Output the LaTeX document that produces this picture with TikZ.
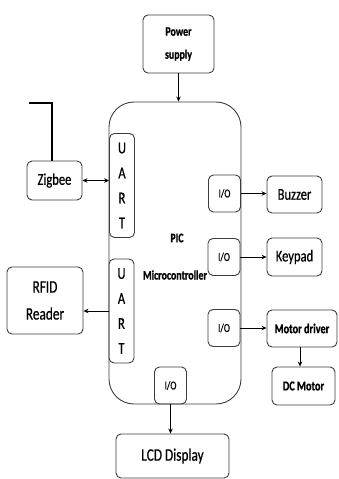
\documentclass[tikz,border=0pt]{standalone}
\usepackage{fontspec}
\setmainfont{Carlito}[FakeStretch=0.76]
\newfontfamily\heavyfont{Carlito}[FakeStretch=0.76,FakeBold=0.6]
\newfontfamily\heavybold{Carlito Bold}[FakeStretch=0.76,FakeBold=0.8]
\usetikzlibrary{arrows.meta}
\definecolor{boxline}{RGB}{60,60,60}
\tikzset{block/.style={draw=boxline,rounded corners=5pt,line width=0.9pt,align=center,inner sep=0pt},
 port/.style={block,minimum width=32pt,minimum height=37pt,font=\heavyfont\fontsize{12}{14}\selectfont},
 uart/.style={block,minimum width=25pt,minimum height=104pt,font=\heavyfont\fontsize{16.5}{25}\selectfont},
 link/.style={-{Stealth[length=5pt,width=4.5pt]},line width=0.8pt},
 bigtext/.style={font=\heavyfont\fontsize{16.5}{19}\selectfont},
 boldtext/.style={font=\heavybold\fontsize{13}{23}\selectfont}}

\begin{document}
\begin{tikzpicture}[x=1pt,y=-1pt]
\useasboundingbox (0,0) rectangle (338,479);
\node[block,rounded corners=25pt,minimum width=132pt,minimum height=302pt] (pic) at (175,253) {};
\node[block,boldtext,minimum width=71pt,minimum height=58pt] (power) at (178.5,44) {Power\\supply};
\node[uart] (uartA) at (122,185.5) {U\\A\\R\\T};
\node[uart] (uartB) at (121.5,311) {U\\A\\R\\T};
\node[port] (ioBuzzer) at (224.5,193.5) {I/O};
\node[port] (ioKeypad) at (224,257) {I/O};
\node[port] (ioMotor) at (224,328) {I/O};
\node[port] (ioLcd) at (170.5,385.5) {I/O};
\node[boldtext] (picLabel) at (177,238) {PIC};
\node[boldtext] (mcLabel) at (175,275) {Microcontroller};
\node[block,bigtext,minimum width=55pt,minimum height=39pt] (zigbee) at (54.5,180.5) {Zigbee};
\node[block,font=\heavyfont\fontsize{17.5}{27}\selectfont,minimum width=76pt,minimum height=67pt] (rfid) at (45,300.5) {RFID\\Reader};
\node[block,bigtext,minimum width=55pt,minimum height=37pt] (buzzer) at (294.5,194.5) {Buzzer};
\node[block,bigtext,minimum width=55pt,minimum height=38pt] (keypad) at (294.5,257) {Keypad};
\node[block,font=\heavybold\fontsize{13.5}{15}\selectfont,minimum width=70pt,minimum height=37pt] (motorDrv) at (302,328.5) {Motor driver};
\node[block,font=\heavybold\fontsize{13.5}{15}\selectfont,minimum width=63pt,minimum height=38pt] (dcMotor) at (303.5,386) {DC Motor};
\node[block,font=\heavyfont\fontsize{17.5}{19}\selectfont,minimum width=113pt,minimum height=44pt] (lcd) at (172.5,456) {LCD Display};
\coordinate (antTop) at (52,103);
\coordinate (antTip) at (29,103);
\draw[line width=2.6pt] (zigbee.north -| antTop)--(antTop)--(antTip);
\draw[link] (power.south)--(power.south |- pic.north);
\draw[link,{Stealth[length=5pt,width=4.5pt]}-{Stealth[length=5pt,width=4.5pt]}] (zigbee.east)--(zigbee.east -| uartA.west);
\draw[link] (uartB.west)--(uartB.west -| rfid.east);
\draw[link] (ioBuzzer.east)--(ioBuzzer.east -| buzzer.west);
\draw[link] (ioKeypad.east)--(ioKeypad.east -| keypad.west);
\draw[link] (ioMotor.east)--(ioMotor.east -| motorDrv.west);
\draw[link] (motorDrv.south -| 300,0)--(dcMotor.north -| 300,0);
\draw[link] (ioLcd.south)--(ioLcd.south |- lcd.north);
\end{tikzpicture}
\end{document}
